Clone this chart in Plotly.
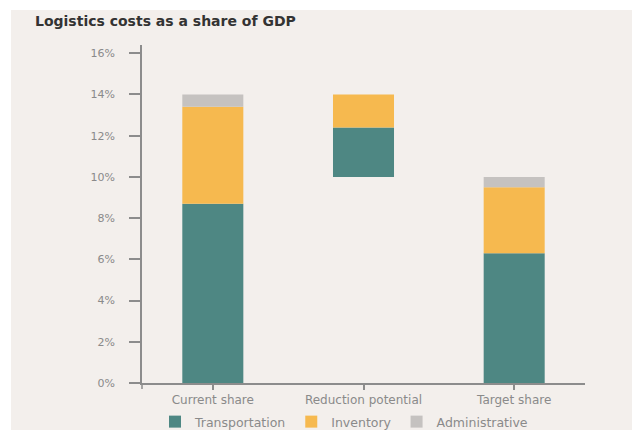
import plotly.graph_objects as go

categories = ["Current share", "Reduction potential", "Target share"]
transportation = [8.7, 2.4, 6.3]
inventory = [4.7, 1.6, 3.2]
administrative = [0.6, 0.0, 0.5]
start_base = [0, 10, 0]

tick_vals = [0, 2, 4, 6, 8, 10, 12, 14, 16]
tick_text = ["0%", "2%", "4%", "6%", "8%", "10%", "12%", "14%", "16%"]

colors = {"Transportation": "#4e8783", "Inventory": "#f6b94f", "Administrative": "#c5c2c0"}
bg = "#f3efec"
axis_col = "#8c8c8c"
txt_col = "#8a8a8a"
font_fam = "'DejaVu Sans', sans-serif"

inv_base = [b + t for b, t in zip(start_base, transportation)]
adm_base = [b + i for b, i in zip(inv_base, inventory)]

# page body has an 8px margin; figure sized to fit the window
W, H = 632, 422
ml, mr, mt, mb = 134, 55, 37, 47
pw, ph = W - ml - mr, H - mt - mb

fig = go.Figure()
for name, vals, base in [("Transportation", transportation, start_base),
                         ("Inventory", inventory, inv_base),
                         ("Administrative", administrative, adm_base)]:
    fig.add_trace(go.Bar(x=[0, 1, 2], y=vals, base=base, name=name,
                         marker=dict(color=colors[name], line=dict(width=0)),
                         width=0.405))

fig.update_layout(
    width=W, height=H,
    barmode="overlay",
    paper_bgcolor=bg, plot_bgcolor=bg,
    margin=dict(l=ml, r=mr, t=mt, b=mb, autoexpand=False),
    font=dict(family=font_fam, size=11, color=txt_col),
    title=dict(text="<b>Logistics costs as a share of GDP</b>", xref="container", yref="container",
               x=27 / W, xanchor="left", y=1 - 13 / H, yanchor="middle",
               font=dict(family=font_fam, size=14, color="#333333")),
    xaxis=dict(range=[-0.47, 2.47], tickvals=[0, 1, 2], ticktext=categories,
               showgrid=False, zeroline=False, showline=True, linecolor=axis_col, linewidth=1.5,
               ticks="outside", ticklen=5, tickcolor=axis_col, tickwidth=1.5,
               ticklabelstandoff=0,
               tickfont=dict(size=12, color=txt_col)),
    yaxis=dict(range=[0, 16.4], tickvals=tick_vals, ticktext=tick_text,
               showgrid=False, zeroline=False, showline=True, linecolor=axis_col, linewidth=1.5,
               ticks="outside", ticklen=11, tickcolor=axis_col, tickwidth=1.5,
               ticklabelstandoff=12,
               tickfont=dict(size=11, color=txt_col)),
    legend=dict(orientation="h", xref="container", yref="container",
                x=336 / W, xanchor="center",
                y=1 - 414 / H, yanchor="middle",
                font=dict(size=12.5, color=txt_col), bgcolor="rgba(0,0,0,0)",
                traceorder="normal"),
    showlegend=True,
    shapes=[
        dict(type="rect", xref="paper", yref="paper", x0=-ml / pw - 0.01, x1=(W - ml) / pw + 0.01,
             y0=1 + (mt - 2) / ph, y1=1 + mt / ph + 0.01, fillcolor="white", line=dict(width=0), layer="below"),
        dict(type="rect", xref="paper", yref="paper", x0=-ml / pw - 0.01, x1=-(ml - 3) / pw,
             y0=-mb / ph - 0.01, y1=1 + mt / ph + 0.01, fillcolor="white", line=dict(width=0), layer="below"),
        dict(type="line", xref="paper", yref="paper", x0=0, x1=0, y0=0, y1=-6 / ph,
             line=dict(color=axis_col, width=1.5)),
    ],
)

fig.write_html("out.html")
